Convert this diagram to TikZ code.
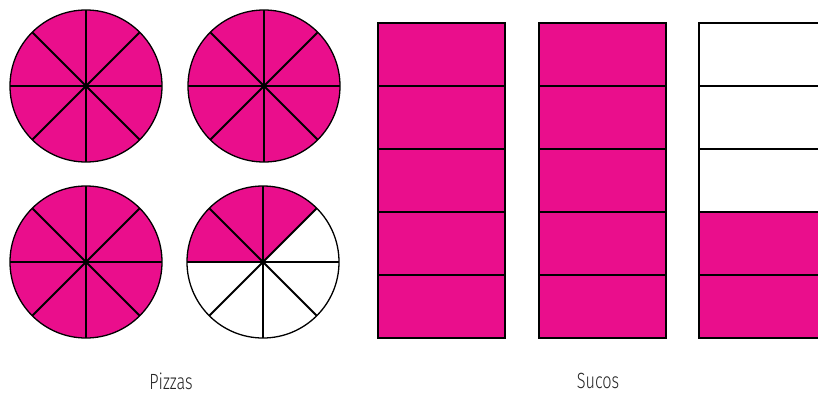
\documentclass[tikz,border=0pt]{standalone}
\usepackage{fontspec}
\usetikzlibrary{calc}
\newfontfamily\labelfont{Fira Sans Light}[FakeStretch=0.74]
\definecolor{pizzapink}{HTML}{EA0E8C}
\begin{document}
\begin{tikzpicture}[x=1pt, y=-1pt,
  slice/.style={line width=1.8pt, black},
  rim/.style={line width=1.3pt, black},
  cup/.style={draw, line width=2.2pt, black},
  lbl/.style={font=\labelfont\fontsize{22}{24}\selectfont, text=black!85}]
  \useasboundingbox (0,0) rectangle (818,394);
  % pizzas: full ones
  \foreach \cx/\cy in {86/86, 264/86, 86/262} {
    \fill[pizzapink] (\cx,\cy) circle (76);
    \draw[rim] (\cx,\cy) circle (76);
    \foreach \a in {0,45,90,135}
      \draw[slice] ($(\cx,\cy)+(\a:76)$) -- ($(\cx,\cy)+(\a+180:76)$);
  }
  % pizza with 3 of 8 slices left
  \fill[pizzapink] (263,262) -- ++(-45:76) arc[start angle=-45, end angle=-180, radius=76] -- cycle;
  \draw[rim] (263,262) circle (76);
  \foreach \a in {0,45,90,135}
    \draw[slice] ($(263,262)+(\a:76)$) -- ($(263,262)+(\a+180:76)$);
  % juice boxes
  \foreach \x in {378, 539} {
    \foreach \k in {0,...,4}
      \draw[cup, fill=pizzapink] (\x,23+63*\k) rectangle (\x+127,23+63*\k+63);
  }
  \foreach \k in {0,1,2}
    \draw[cup, fill=white] (699,23+63*\k) rectangle (830,23+63*\k+63);
  \foreach \k in {3,4}
    \draw[cup, fill=pizzapink] (699,23+63*\k) rectangle (830,23+63*\k+63);
  \node[lbl] (pizzas) at (171,381) {Pizzas};
  \node[lbl] (sucos) at (598,381) {Sucos};
\end{tikzpicture}
\end{document}
